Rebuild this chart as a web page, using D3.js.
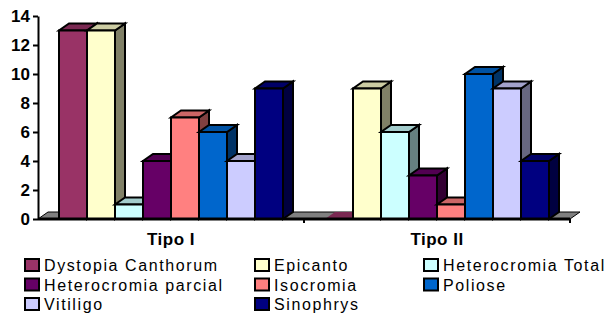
<!DOCTYPE html>
<html>
<head>
<meta charset="utf-8">
<script src="https://cdn.jsdelivr.net/npm/d3@7"></script>
<style>
  body { margin: 0; background: #fff; }
  svg { display: block; font-family: "Liberation Sans", Arial, sans-serif; }
</style>
</head>
<body>
<svg width="608" height="314"></svg>
<script>
// data
var categories = ["Tipo I", "Tipo II"];
var seriesNames = ["Dystopia Canthorum", "Epicanto", "Heterocromia Total",
  "Heterocromia parcial", "Isocromia", "Poliose", "Vitiligo", "Sinophrys"];
var tipoI = [13, 13, 1, 4, 7, 6, 4, 9];
var tipoII = [0, 9, 6, 3, 1, 10, 9, 4];
var seriesColors = ["#993366", "#FFFFCC", "#CCFFFF", "#660066",
  "#FF8080", "#0066CC", "#CCCCFF", "#000080"];
var yTicks = [0, 2, 4, 6, 8, 10, 12, 14];

var svg = d3.select("svg");

// scales
var x0 = d3.scaleBand().domain(categories).range([38, 570]),
    x1 = d3.scaleBand().domain(seriesNames).range([21, 245]),
    y = d3.scaleLinear().domain([0, 14]).range([219, 16]);

var depthX = 10, depthY = -7;

function shade(c, k) {
  var r = d3.rgb(c);
  return d3.rgb(r.r * k, r.g * k, r.b * k).formatHex();
}

// floor
var x0a = x0.range()[0], x0b = x0.range()[1];
svg.append("polygon")
    .attr("points", [[x0a, y(0)], [x0b, y(0)], [x0b + depthX, y(0) + depthY], [x0a + depthX, y(0) + depthY]].join(" "))
    .attr("fill", "#808080")
    .attr("stroke", "#000")
    .attr("stroke-width", 1);

// bars, drawn left to right so each front face covers the previous side
var rows = [];
categories.forEach(function (cat, ci) {
  var vals = ci === 0 ? tipoI : tipoII;
  seriesNames.forEach(function (s, si) {
    rows.push({cat: cat, series: s, value: vals[si], color: seriesColors[si]});
  });
});

var bars = svg.append("g").selectAll("g")
  .data(rows)
  .join("g")
    .attr("stroke", "#000")
    .attr("stroke-width", 2)
    .attr("stroke-linejoin", "miter");

bars.each(function (d) {
  var g = d3.select(this),
      xl = x0(d.cat) + x1(d.series),
      xr = xl + x1.bandwidth(),
      yt = y(d.value),
      yb = y(0);
  // side
  if (d.value > 0) {
    g.append("polygon")
      .attr("points", [[xr, yb], [xr + depthX, yb + depthY], [xr + depthX, yt + depthY], [xr, yt]].join(" "))
      .attr("fill", shade(d.color, 0.5));
  }
  // top
  g.append("polygon")
    .attr("points", [[xl, yt], [xr, yt], [xr + depthX, yt + depthY], [xl + depthX, yt + depthY]].join(" "))
    .attr("fill", shade(d.color, 0.8))
    .attr("stroke-width", d.value > 0 ? 2 : 0);
  // front
  if (d.value > 0) {
    g.append("rect")
      .attr("x", xl)
      .attr("y", yt)
      .attr("width", xr - xl)
      .attr("height", yb - yt)
      .attr("fill", d.color);
  }
});

// x axis baseline and category labels
svg.append("line")
    .attr("x1", x0a).attr("x2", x0b)
    .attr("y1", y(0)).attr("y2", y(0))
    .attr("stroke", "#000")
    .attr("stroke-width", 3);

svg.append("g").selectAll("line")
  .data(categories)
  .join("line")
    .attr("x1", function (d) { return x0(d) + x0.bandwidth(); })
    .attr("x2", function (d) { return x0(d) + x0.bandwidth(); })
    .attr("y1", y(0))
    .attr("y2", y(0) + 4)
    .attr("stroke", "#000")
    .attr("stroke-width", 2);

var xAxis = svg.append("g")
    .attr("transform", "translate(0," + y(0) + ")")
    .call(d3.axisBottom(x0).tickSize(0).tickPadding(14));
xAxis.select(".domain").remove();
xAxis.selectAll("text")
    .attr("font-size", 17)
    .attr("font-weight", "bold")
    .attr("letter-spacing", 0.5)
    .attr("fill", "#000")
    .style("font-family", "'Liberation Sans', Arial, sans-serif");

// y axis
var yAxis = svg.append("g")
    .attr("transform", "translate(38,0)")
    .call(d3.axisLeft(y).tickValues(yTicks).tickSize(5).tickSizeOuter(0).tickPadding(3));
yAxis.select(".domain").attr("stroke-width", 2);
yAxis.selectAll(".tick line").attr("stroke-width", 2);
yAxis.selectAll("text")
    .attr("font-size", 17)
    .attr("font-weight", "bold")
    .attr("fill", "#000")
    .style("font-family", "'Liberation Sans', Arial, sans-serif");

// legend, 3 columns
var legendCols = [25, 255, 424],
    legendRows = [271, 290.5, 310];

var legend = svg.append("g").selectAll("g")
  .data(seriesNames)
  .join("g")
    .attr("transform", function (d, i) {
      return "translate(" + legendCols[i % 3] + "," + legendRows[Math.floor(i / 3)] + ")";
    });

legend.append("rect")
    .attr("x", 0)
    .attr("y", -12)
    .attr("width", 14)
    .attr("height", 12)
    .attr("fill", function (d, i) { return seriesColors[i]; })
    .attr("stroke", "#000")
    .attr("stroke-width", 2);

legend.append("text")
    .attr("x", 19)
    .attr("y", 0)
    .attr("font-size", 16)
    .attr("letter-spacing", 1.6)
    .attr("fill", "#000")
    .text(function (d) { return d; });
</script>
</body>
</html>
